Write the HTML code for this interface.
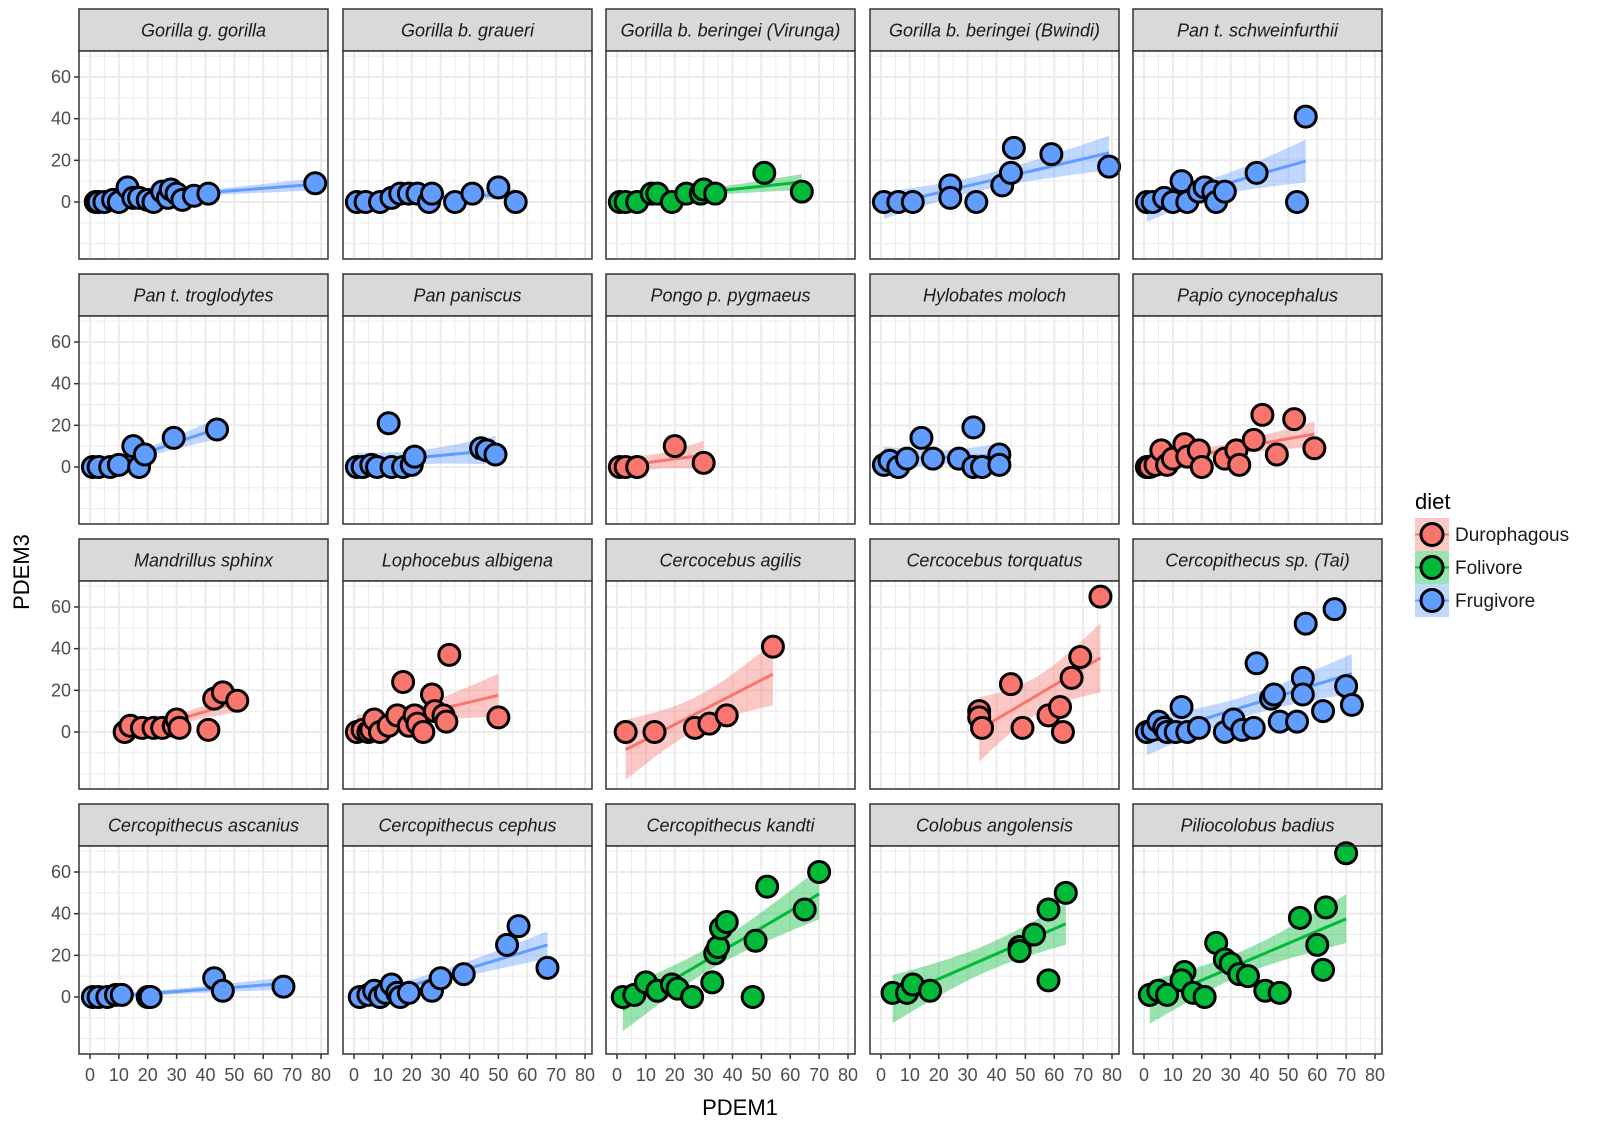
<!DOCTYPE html>
<html><head><meta charset="utf-8">
<style>
body{margin:0;background:#fff;}
svg{display:block;font-family:"Liberation Sans",sans-serif;}
</style></head>
<body>
<svg id="chart" width="1600" height="1128" viewBox="0 0 1600 1128" xmlns="http://www.w3.org/2000/svg">
<g id="panels"></g>
<text x="740" y="1115" font-size="22" fill="#000" text-anchor="middle">PDEM1</text>
<text x="0" y="0" font-size="22" fill="#000" text-anchor="middle" transform="translate(29,572) rotate(-90)">PDEM3</text>
<g>
<text x="1415" y="509" font-size="22" fill="#000">diet</text>
<g>
<rect x="1415" y="518" width="34" height="33" fill="#F8766D" fill-opacity="0.4"/>
<line x1="1415" y1="534.5" x2="1449" y2="534.5" stroke="#F8766D" stroke-width="2"/>
<circle cx="1432" cy="534.5" r="11" fill="#F8766D" stroke="#000" stroke-width="3"/>
<text x="1455" y="541" font-size="19" fill="#1a1a1a">Durophagous</text></g>
<g>
<rect x="1415" y="551" width="34" height="33" fill="#00BA38" fill-opacity="0.4"/>
<line x1="1415" y1="567.5" x2="1449" y2="567.5" stroke="#00BA38" stroke-width="2"/>
<circle cx="1432" cy="567.5" r="11" fill="#00BA38" stroke="#000" stroke-width="3"/>
<text x="1455" y="574" font-size="19" fill="#1a1a1a">Folivore</text></g>
<g>
<rect x="1415" y="584" width="34" height="33" fill="#619CFF" fill-opacity="0.4"/>
<line x1="1415" y1="600.5" x2="1449" y2="600.5" stroke="#619CFF" stroke-width="2"/>
<circle cx="1432" cy="600.5" r="11" fill="#619CFF" stroke="#000" stroke-width="3"/>
<text x="1455" y="607" font-size="19" fill="#1a1a1a">Frugivore</text></g>
</g>
</svg>
<script>
const taxa = ["Gorilla g. gorilla","Gorilla b. graueri","Gorilla b. beringei (Virunga)","Gorilla b. beringei (Bwindi)","Pan t. schweinfurthii",
"Pan t. troglodytes","Pan paniscus","Pongo p. pygmaeus","Hylobates moloch","Papio cynocephalus",
"Mandrillus sphinx","Lophocebus albigena","Cercocebus agilis","Cercocebus torquatus","Cercopithecus sp. (Tai)",
"Cercopithecus ascanius","Cercopithecus cephus","Cercopithecus kandti","Colobus angolensis","Piliocolobus badius"];
const diets = ["F","F","L","F","F","F","F","D","F","D","D","D","D","D","F","F","F","L","L","L"];
const xTicks = [0,10,20,30,40,50,60,70,80];
const yTicks = [0,20,40,60];
const pdem1 = [
[2,3,5,8,10,13,15,17,20,22,25,27,28,30,32,36,41,78],
[1,4,9,13,16,19,22,26,27,35,41,50,56],
[1,3,7,12,14,19,24,29,30,34,51,64],
[1,6,11,24,24,33,42,45,46,59,79],
[1,3,7,10,13,15,19,21,24,25,28,39,53,56],
[1,3,7,10,15,17,19,29,44],
[1,3,6,8,12,13,17,20,21,44,46,49],
[1,3,7,20,30],
[1,3,6,9,14,18,27,32,32,35,41,41],
[1,2,4,6,8,10,14,15,19,20,28,32,33,38,41,46,52,59],
[12,14,18,22,25,29,30,31,41,43,46,51],
[1,3,5,6,7,9,12,15,17,19,21,22,24,27,28,31,32,33,50],
[3,13,27,32,38,54],
[34,34,35,45,49,58,62,63,66,69,76],
[1,3,5,7,8,11,13,15,19,28,31,34,38,39,44,45,47,53,55,56,55,62,66,70,72],
[1,3,6,9,11,20,21,43,46,67],
[2,5,7,9,11,13,15,16,19,27,30,38,53,57,67],
[2,6,10,14,19,21,26,33,34,35,36,38,47,48,52,65,70],
[4,9,11,17,48,48,53,58,58,64],
[2,5,8,14,13,17,21,25,28,30,33,36,42,47,54,60,62,63,70]
];
const pdem3 = [
[0,0,0,1,0,7,2,2,1,0,5,2,6,4,1,3,4,9],
[0,0,0,2,4,4,4,0,4,0,4,7,0],
[0,0,0,4,4,0,4,4,6,4,14,5],
[0,0,0,8,2,0,8,14,26,23,17],
[0,0,2,0,10,0,5,7,5,0,5,14,0,41],
[0,0,0,1,10,0,6,14,18],
[0,0,1,0,21,0,0,1,5,9,8,6],
[0,0,0,10,2],
[1,3,0,4,14,4,4,19,0,0,6,1],
[0,0,1,8,1,4,11,5,8,0,4,8,1,13,25,6,23,9],
[0,3,2,2,2,3,6,2,1,16,19,15],
[0,1,0,1,6,0,3,8,24,3,8,4,0,18,10,8,5,37,7],
[0,0,2,4,8,41],
[10,7,2,23,2,8,12,0,26,36,65],
[0,1,5,2,0,0,12,0,2,0,6,1,2,33,16,18,5,5,26,52,18,10,59,22,13],
[0,0,0,1,1,0,0,9,3,5],
[0,1,3,0,2,6,2,0,2,3,9,11,25,34,14],
[0,1,7,3,6,4,0,7,21,24,33,36,0,27,53,42,60],
[2,2,6,3,24,22,30,42,8,50],
[1,3,1,12,8,2,0,26,18,16,11,10,3,2,38,25,13,43,69]
];
const colors = {D:"#F8766D",L:"#00BA38",F:"#619CFF"};
const NS="http://www.w3.org/2000/svg";
const root=document.getElementById("panels");
const PW=249, PH=208, SH=42;
function xs(v){return 11+v*231/80;}
function ys(v){return 151-v*125/60;}
function mk(tag,attrs,parent){const e=document.createElementNS(NS,tag);for(const k in attrs)e.setAttribute(k,attrs[k]);parent.appendChild(e);return e;}
taxa.forEach((name,i)=>{
  const col=i%5,row=Math.floor(i/5);
  const left=Math.round(79+col*263.5), top=9+row*265;
  const g=mk("g",{transform:`translate(${left},${top})`},root);
  
  
  const strip=mk("g",{},g);
  
  
  mk("rect",{x:0,y:0,width:PW,height:SH,fill:"#d9d9d9",stroke:"#333",'stroke-width':1.5},strip);
  const st=mk("text",{x:PW/2,y:SH/2+6.5,'font-size':18,'font-style':'italic','text-anchor':'middle',fill:'#1a1a1a'},strip);
  st.textContent=name;
  const p=mk("g",{transform:`translate(0,${SH})`},g);
  mk("rect",{x:0,y:0,width:PW,height:PH,fill:"#fff"},p);
  const cid="c"+i;
  const cp=mk("clipPath",{id:cid},p); mk("rect",{x:0,y:0,width:PW,height:PH},cp);
  const grid=mk("g",{'clip-path':`url(#${cid})`},p);
  
  
  for(let v=-20;v<=70;v+=10){const maj=yTicks.includes(v);mk("line",{x1:0,x2:PW,y1:ys(v),y2:ys(v),stroke:"#ebebeb",'stroke-width':maj?2:1},grid);}
  for(let v=-5;v<=85;v+=5){const maj=xTicks.includes(v);mk("line",{y1:0,y2:PH,x1:xs(v),x2:xs(v),stroke:"#ebebeb",'stroke-width':maj?2:1},grid);}
  const xd=pdem1[i], yd=pdem3[i], n=xd.length, c=colors[diets[i]];
  const mx=xd.reduce((a,b)=>a+b,0)/n, my=yd.reduce((a,b)=>a+b,0)/n;
  let sxx=0,sxy=0; for(let k=0;k<n;k++){sxx+=(xd[k]-mx)**2;sxy+=(xd[k]-mx)*(yd[k]-my);}
  const b=sxy/sxx,a=my-b*mx;
  let sse=0; for(let k=0;k<n;k++){sse+=(yd[k]-a-b*xd[k])**2;}
  const s=Math.sqrt(sse/Math.max(1,n-2)), t=1.9;
  const x0=Math.min(...xd),x1=Math.max(...xd);
  const up=[],lo=[];
  for(let q=0;q<=40;q++){const x=x0+(x1-x0)*q/40,f=a+b*x,se=s*Math.sqrt(1/n+(x-mx)**2/sxx);up.push(`${xs(x)},${ys(f+t*se)}`);lo.unshift(`${xs(x)},${ys(f-t*se)}`);}
  const fitg=mk("g",{'clip-path':`url(#${cid})`},p);
  const rib=mk("polygon",{points:up.concat(lo).join(" "),fill:c,'fill-opacity':0.4},fitg);
  
  
  const ln=mk("line",{x1:xs(x0),y1:ys(a+b*x0),x2:xs(x1),y2:ys(a+b*x1),stroke:c,'stroke-width':3},fitg);
  
  
  const ptsg=mk("g",{},p);
  for(let k=0;k<n;k++){
    const ci=mk("circle",{cx:xs(xd[k]),cy:ys(yd[k]),r:10.5,fill:c,stroke:"#000",'stroke-width':3},ptsg);
    
    
  }
  mk("rect",{x:0,y:0,width:PW,height:PH,fill:"none",stroke:"#333",'stroke-width':1.5},p);
  if(col===0){
    const ya=mk("g",{},p);
    
    
    yTicks.forEach(v=>{mk("line",{x1:-5,x2:0,y1:ys(v),y2:ys(v),stroke:"#333",'stroke-width':1.5},ya);
      const tx=mk("text",{x:-8,y:ys(v)+6,'font-size':18,'text-anchor':'end',fill:'#4d4d4d'},ya);tx.textContent=v;});
  }
  if(row===3){
    const xa=mk("g",{},p);
    
    
    xTicks.forEach(v=>{mk("line",{x1:xs(v),x2:xs(v),y1:PH,y2:PH+5,stroke:"#333",'stroke-width':1.5},xa);
      const tx=mk("text",{x:xs(v),y:PH+27,'font-size':18,'text-anchor':'middle',fill:'#4d4d4d'},xa);tx.textContent=v;});
  }
});
</script>
</body></html>
